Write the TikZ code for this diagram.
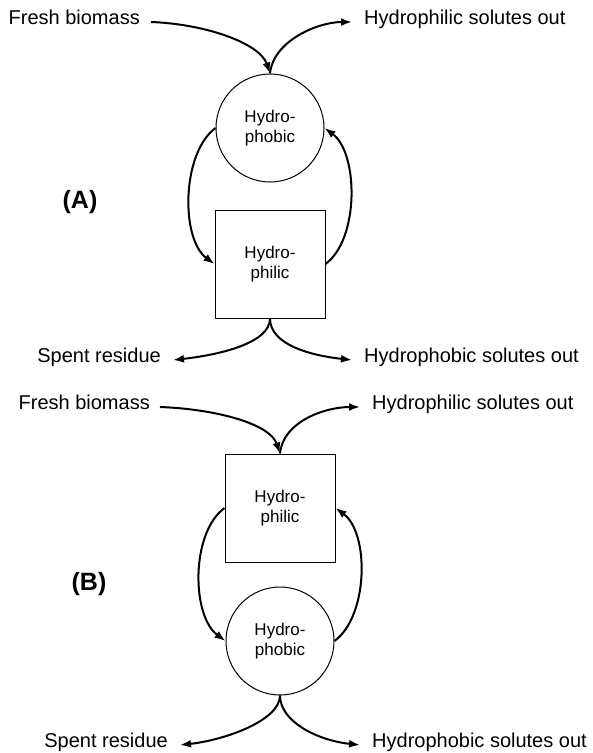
\documentclass[tikz,border=0pt]{standalone}
\usepackage{fontspec}
\setmainfont{Liberation Sans}
\usetikzlibrary{arrows.meta}
\begin{document}
\begin{tikzpicture}[x=1pt,y=-1pt,
  lbl/.style={inner sep=0pt, text height=0.73em, text depth=0.21em, font=\fontsize{20}{24}\selectfont},
  tag/.style={inner sep=0pt, font=\fontsize{25}{30}\selectfont\bfseries},
  circ/.style={circle, draw, line width=1pt, minimum size=108pt, inner sep=0pt, align=center, font=\fontsize{17}{20}\selectfont},
  sqr/.style={rectangle, draw, line width=1pt, minimum width=110pt, minimum height=108pt, inner sep=0pt, align=center, font=\fontsize{17}{20}\selectfont},
  flow/.style={line width=2pt, -{Latex[length=11pt,width=8pt]}}
]
\useasboundingbox (0,0) rectangle (593,753);
% ---------- (A) ----------
\node[lbl, anchor=east] (fa) at (140,22) {Fresh biomass};
\node[lbl, anchor=west] (ha) at (364,22) {Hydrophilic solutes out};
\node[circ] (ca) at (270,128) {Hydro-\\phobic};
\node[sqr] (sa) at (270,264) {Hydro-\\philic};
\node[tag] (ta) at (80,202) {(A)};
\node[lbl, anchor=east] (ra) at (161,360) {Spent residue};
\node[lbl, anchor=west] (pa) at (364,360) {Hydrophobic solutes out};
\draw[flow] ([xshift=11pt]fa.east) .. controls +(55,2) and +(-10,-30) .. (ca.north);
\draw[flow] (ca.north) .. controls +(3,-32) and +(-35,0) .. ([xshift=-12pt]ha.west);
\draw[flow] (ca.west) .. controls +(-34,25) and +(-34,-25) .. (sa.west);
\draw[flow] (sa.east) .. controls +(34,-25) and +(34,25) .. (ca.east);
\draw[flow] (sa.south) .. controls +(0,25) and +(45,-5) .. ([xshift=12pt]ra.east);
\draw[flow] (sa.south) .. controls +(0,25) and +(-45,-5) .. ([xshift=-12pt]pa.west);
% ---------- (B) ----------
\node[lbl, anchor=east] (fb) at (150,407) {Fresh biomass};
\node[lbl, anchor=west] (hb) at (372,407) {Hydrophilic solutes out};
\node[sqr] (sb) at (280,508) {Hydro-\\philic};
\node[circ] (cb) at (280,641) {Hydro-\\phobic};
\node[tag] (tb) at (89,584) {(B)};
\node[lbl, anchor=east] (rb) at (168,745) {Spent residue};
\node[lbl, anchor=west] (pb) at (372,745) {Hydrophobic solutes out};
\draw[flow] ([xshift=10pt]fb.east) .. controls +(55,2) and +(-10,-30) .. (sb.north);
\draw[flow] (sb.north) .. controls +(3,-32) and +(-35,0) .. ([xshift=-12pt]hb.west);
\draw[flow] (sb.west) .. controls +(-34,25) and +(-34,-25) .. (cb.west);
\draw[flow] (cb.east) .. controls +(34,-25) and +(34,25) .. (sb.east);
\draw[flow] (cb.south) .. controls +(0,25) and +(45,-5) .. ([xshift=12pt]rb.east);
\draw[flow] (cb.south) .. controls +(0,25) and +(-45,-5) .. ([xshift=-12pt]pb.west);
\end{tikzpicture}
\end{document}
